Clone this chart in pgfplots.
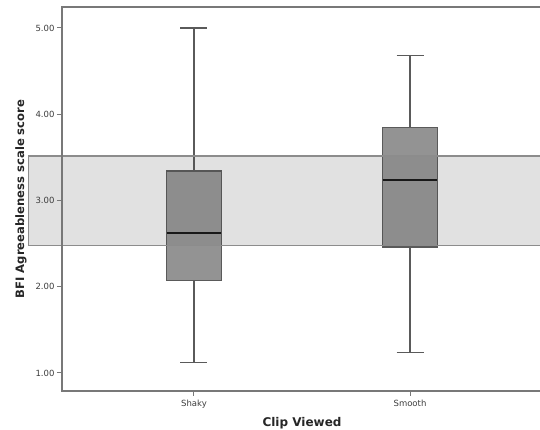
\documentclass[border=0pt]{standalone}
\usepackage{pgfplots}
\pgfplotsset{compat=1.18}
\usepgfplotslibrary{statistics}
\usepackage{fontspec}
\setmainfont{DejaVu Sans}
\definecolor{spine}{HTML}{787878}
\definecolor{boxfill}{HTML}{939393}
\definecolor{boxedge}{HTML}{5A5A5A}
\definecolor{ticktext}{HTML}{3C3C3C}
\definecolor{bandedge}{HTML}{8C8C8C}
\definecolor{bandfill}{HTML}{EAEAEA}
\begin{document}
\begin{tikzpicture}
\path[use as bounding box] (0,0) rectangle (540pt,430pt);
\begin{axis}[
  at={(62pt,39pt)}, anchor=south west,
  scale only axis, width=480pt, height=384pt,
  xmin=-0.611, xmax=1.611, ymin=0.791, ymax=5.243,
  clip=false, axis on top,
  axis line style={spine, line width=1.2pt},
  tick pos=left, tick align=outside,
  major tick length=5pt,
  tick style={spine, line width=1pt},
  xtick={0,1}, xticklabels={Shaky,Smooth},
  ytick={1,2,3,4,5},
  /pgf/number format/.cd, fixed, fixed zerofill, precision=2, assume math mode=true,
  /pgfplots/.cd,
  ticklabel style={font=\fontsize{8.5}{10}\selectfont, text=ticktext},
  xticklabel style={yshift=-1pt},
  yticklabel style={xshift=1pt},
  xlabel={Clip Viewed}, ylabel={BFI Agreeableness scale score},
  xlabel style={font=\bfseries\fontsize{12}{14}\selectfont, text=black!85,
    at={(axis description cs:0.5,-0.0833)}, anchor=center},
  ylabel style={font=\bfseries\fontsize{11.6}{14}\selectfont, text=black!85,
    at={(axis description cs:-0.0854,0.5)}, anchor=center},
  boxplot/draw direction=y,
  boxplot/box extend=0.253,
  boxplot/whisker extend=0.125,
  boxplot/every box/.style={draw=boxedge, fill=boxfill, line width=1.1pt},
  boxplot/every whisker/.style={draw=boxedge, line width=1.1pt},
  boxplot/every median/.style={draw=black!90, line width=1.8pt},
]
% band fill underneath
\addplot[draw=none, fill=bandfill, mark=none]
  coordinates {(-0.764,2.476) (1.611,2.476) (1.611,3.516) (-0.764,3.516) (-0.764,2.476)};
\addplot+[boxplot prepared={draw position=0,
    lower whisker=1.124, lower quartile=2.067, median=2.627,
    upper quartile=3.342, upper whisker=5.0}, mark=none, draw=boxedge]
  coordinates {};
\addplot+[boxplot prepared={draw position=1,
    lower whisker=1.235, lower quartile=2.461, median=3.234,
    upper quartile=3.844, upper whisker=4.679}, mark=none, draw=boxedge]
  coordinates {};
% band outline and slight tint on top
\addplot[draw=bandedge, line width=1.1pt, fill=black, fill opacity=0.035, mark=none]
  coordinates {(-0.764,2.476) (1.611,2.476) (1.611,3.516) (-0.764,3.516) (-0.764,2.476)};
\end{axis}
\end{tikzpicture}
\end{document}
